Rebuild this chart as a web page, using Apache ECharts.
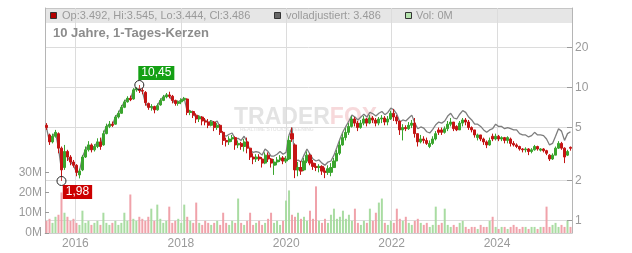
<!DOCTYPE html>
<html><head><meta charset="utf-8">
<script src="https://cdn.jsdelivr.net/npm/echarts@6/dist/echarts.min.js"></script>
<style>html,body{margin:0;padding:0;background:#fff}#c{width:632px;height:253px}</style>
</head><body><div id="c"></div>
<script>
// Two-week-ish candles, June 2015 – June 2025
const opens=[
5.2,4.4,3.9,4.3,4.5,3.5,2.5,3.3,3.0,2.75,
2.6,2.2,2.4,3.0,3.4,3.7,3.4,3.6,3.9,3.7,
4.5,5.1,5.3,5.3,6.0,6.4,7.1,7.8,8.3,8.2,
9.6,9.8,9.5,9.2,7.6,7.1,7.2,6.8,7.4,8.0,
8.5,8.8,8.6,8.0,7.6,7.8,8.1,8.2,6.5,6.6,
6.2,5.8,6.0,5.6,5.5,5.2,5.5,5.0,5.2,4.6,
4.0,3.9,4.1,4.2,3.7,3.8,3.6,3.9,3.5,3.0,
2.9,3.0,2.9,2.7,3.1,2.9,2.6,2.75,2.85,2.95,
2.8,2.9,4.5,3.7,2.4,2.5,2.4,2.8,3.1,2.7,
2.55,2.5,2.55,2.35,2.3,2.3,2.5,2.8,3.2,3.7,
4.2,4.6,5.1,5.8,5.4,5.0,5.4,5.8,5.4,5.9,
5.7,5.4,5.8,5.9,5.5,5.8,6.4,6.0,5.6,4.8,
5.0,4.9,5.2,5.4,4.5,3.9,4.1,4.0,3.6,3.8,
4.1,4.8,4.8,4.6,4.9,5.3,5.5,5.1,4.8,5.4,
5.7,5.5,5.0,4.8,4.2,4.4,4.1,3.9,3.7,4.3,
4.1,4.3,4.1,4.2,4.0,4.1,3.8,3.7,3.6,3.45,
3.4,3.45,3.3,3.4,3.6,3.38,3.45,3.35,3.1,2.9,
3.1,3.5,3.8,3.5,3.1,3.55];
const closes=[
5.0,3.9,4.3,4.6,3.5,2.4,3.3,3.0,2.75,2.6,
2.3,2.35,3.0,3.4,3.7,3.4,3.6,3.9,3.6,4.5,
5.1,5.3,5.2,6.0,6.4,7.1,7.8,8.3,8.1,9.6,
9.8,9.5,9.4,7.7,7.1,7.2,6.8,7.3,8.0,8.5,
8.8,8.6,8.0,7.6,7.8,8.1,8.3,6.5,6.6,6.2,
5.8,6.0,5.6,5.5,5.2,5.5,5.0,5.2,4.6,4.0,
3.9,4.1,4.2,3.7,3.8,3.6,3.9,3.5,3.0,2.9,
3.0,2.9,2.7,3.1,2.9,2.7,2.75,2.85,2.95,2.8,
2.9,4.0,4.1,2.4,2.5,2.35,2.8,3.1,2.7,2.55,
2.5,2.55,2.35,2.3,2.45,2.5,2.8,3.2,3.7,4.2,
4.6,5.1,5.8,5.4,5.0,5.4,5.8,5.4,5.9,5.7,
5.4,5.8,5.9,5.5,5.8,6.4,6.0,5.6,4.8,5.0,
4.9,5.2,5.4,4.5,3.9,4.1,4.0,3.8,3.8,4.1,
4.5,4.6,4.6,4.9,5.3,5.5,4.9,4.8,5.4,5.7,
5.5,5.0,4.8,4.4,4.4,4.1,3.9,3.7,4.0,4.1,
4.3,4.1,4.2,4.0,4.2,3.8,3.7,3.6,3.45,3.4,
3.45,3.3,3.4,3.6,3.45,3.45,3.35,3.2,2.9,3.1,
3.5,3.8,3.5,3.0,3.3,3.49];
const lows=[
4.8,3.7,3.8,4.2,3.2,1.98,2.4,2.8,2.6,2.5,
2.15,2.07,2.35,2.95,3.3,3.25,3.3,3.5,3.4,3.65,
4.45,4.95,5.05,5.25,5.85,6.35,7.0,7.7,7.9,8.1,
9.3,9.1,8.9,7.3,6.8,6.7,6.4,6.7,7.3,7.9,
8.3,8.3,7.6,7.3,7.3,7.5,7.9,6.2,6.2,5.9,
5.4,5.5,5.2,5.2,4.95,5.1,4.7,4.8,4.4,3.7,
3.6,3.7,3.9,3.4,3.5,3.4,3.3,3.2,2.85,2.65,
2.75,2.8,2.5,2.65,2.75,2.5,2.2,2.6,2.75,2.65,
2.7,2.85,3.9,2.08,2.15,2.2,2.35,2.7,2.6,2.4,
2.35,2.3,2.2,2.08,2.2,2.15,2.5,2.8,3.1,3.65,
4.0,4.4,5.0,5.1,4.7,4.9,5.2,5.1,5.3,5.4,
5.1,5.2,5.4,5.2,5.2,5.7,5.6,5.3,4.4,4.0,
4.7,4.8,4.95,4.2,3.6,3.8,3.8,3.7,3.5,3.7,
4.0,4.4,4.4,4.5,4.7,5.1,4.7,4.7,4.8,5.1,
5.2,4.8,4.6,4.2,4.0,3.95,3.7,3.5,3.65,3.95,
4.0,3.95,3.95,3.8,3.8,3.6,3.6,3.5,3.35,3.25,
3.25,3.1,3.2,3.35,3.35,3.3,3.25,3.1,2.8,2.85,
3.1,3.45,3.4,2.7,3.05,3.35];
const highs=[
5.4,4.5,4.5,4.8,4.6,3.6,3.7,3.4,3.1,2.85,
2.65,2.45,3.1,3.6,3.95,3.8,3.75,4.15,4.2,4.75,
5.35,5.6,5.55,6.2,6.7,7.4,8.1,8.6,8.7,9.9,
10.1,10.45,9.9,9.4,7.7,7.5,7.3,7.6,8.3,8.8,
9.1,9.3,8.8,8.1,8.0,8.3,8.5,8.3,6.8,6.7,
6.4,6.2,6.1,5.9,5.8,5.7,5.6,5.4,5.3,4.7,
4.2,4.3,4.4,4.3,4.0,3.9,4.1,4.2,3.5,3.2,
3.15,3.15,3.0,3.25,3.25,2.95,2.9,3.0,3.1,3.05,
3.05,4.3,5.0,3.8,2.75,2.8,2.95,3.3,3.2,2.85,
2.7,2.65,2.6,2.5,2.6,2.7,2.95,3.4,3.95,4.5,
4.95,5.4,6.1,6.0,5.6,5.7,6.1,5.9,6.2,6.1,
5.9,6.0,6.2,6.1,6.1,6.7,6.9,6.2,5.6,5.3,
5.2,5.5,5.7,5.9,4.5,4.4,4.3,4.2,4.0,4.3,
4.7,5.0,5.0,5.1,5.6,5.9,5.5,5.2,5.6,5.9,
5.9,5.7,5.1,4.8,4.5,4.4,4.2,4.0,4.2,4.5,
4.5,4.4,4.3,4.25,4.3,4.2,3.95,3.8,3.65,3.5,
3.55,3.5,3.5,3.7,3.65,3.5,3.5,3.4,3.15,3.2,
3.6,3.95,3.9,3.55,3.4,3.6];
const adjusted=[
5.0,3.9,4.3,4.6,3.5,2.4,3.3,3.0,2.75,2.6,
2.3,2.35,3.0,3.4,3.7,3.4,3.6,3.9,3.6,4.5,
5.1,5.3,5.2,6.0,6.4,7.1,7.8,8.3,8.1,9.6,
9.8,9.5,9.4,7.7,7.1,7.2,6.8,7.3,8.0,8.5,
8.8,8.6,8.0,7.6,7.8,8.1,8.3,6.6,6.7,6.35,
5.95,6.1,5.8,5.7,5.4,5.65,5.4,5.6,5.0,4.4,
4.3,4.45,4.55,4.1,4.15,4.0,4.3,3.9,3.35,3.25,
3.3,3.25,3.1,3.45,3.3,3.05,3.05,3.15,3.3,3.15,
3.25,4.4,5.0,2.75,2.85,2.75,3.1,3.45,3.15,2.9,
2.8,2.85,2.7,2.6,2.75,2.8,3.1,3.55,4.1,4.65,
5.1,5.6,6.2,6.0,5.7,6.0,6.3,6.0,6.5,6.35,
6.1,6.4,6.6,6.25,6.5,7.0,6.8,6.3,5.5,5.7,
5.6,5.9,6.2,5.4,4.9,5.05,4.95,4.65,4.55,4.85,
5.25,5.5,5.4,5.6,6.1,6.4,5.9,5.8,6.3,6.7,
6.5,6.0,5.7,5.3,5.3,5.1,4.8,4.6,4.8,4.9,
5.3,5.1,5.1,4.9,5.0,4.9,4.8,4.8,4.5,4.4,
4.4,4.25,4.35,4.6,4.4,4.4,4.35,4.1,3.7,3.8,
4.3,4.9,4.7,4.0,4.5,4.65];
const volumes=[ // millions
6,7,5,8,9,20,10,8,6,7,
5,4,11,5,6,4,5,6,4,10,
5,4,5,6,4,5,10,6,19,7,
6,8,7,6,8,12,6,14,7,5,
6,13,5,6,7,5,14,8,6,5,
15,5,4,6,5,4,5,6,4,10,
5,4,6,5,17,5,4,6,10,4,
5,6,4,5,7,10,5,6,4,6,
16,21,9,8,10,7,8,6,11,7,
23,6,5,7,5,9,12,7,8,11,
7,9,6,12,5,4,6,5,12,6,
10,15,17,5,4,6,5,12,7,6,
8,5,4,6,7,5,4,5,3,4,
13,4,5,12,4,3,4,3,5,6,
3,2,3,3,2,4,3,3,6,8,
3,2,3,3,2,3,4,3,2,3,
3,2,3,3,2,3,3,13,3,4,
5,3,4,3,6,3];
const yearTicks=[2016,2018,2020,2022,2024];
const priceTicks=[1,2,5,10,20];
const volumeTicks=[0,10,20,30];
const legendTexts=['Op:3.492, Hi:3.545, Lo:3.444, Cl:3.486','volladjustiert: 3.486','Vol: 0M'];
const titleText='10 Jahre, 1-Tages-Kerzen';

const FONT='"Liberation Sans", Arial, sans-serif';
const UP='#3aa52e', DOWN='#c41414', VUP='#a9dca2', VDOWN='#f0a2aa';
const tStart=Date.UTC(2015,5,4), tEnd=Date.UTC(2025,5,4);
const N=closes.length;
const dates=closes.map((_,i)=>tStart+(i+0.5)*(tEnd-tStart)/N);

let hiIdx=0, loIdx=0;
highs.forEach((v,i)=>{if(v>highs[hiIdx])hiIdx=i;});
lows.forEach((v,i)=>{if(v<lows[loIdx])loIdx=i;});

const chart=echarts.init(document.getElementById('c'),null,{renderer:'canvas'});
const L=45,R=572,T=8,B=233;
const yearStamps=yearTicks.map(y=>Date.UTC(y,0,1));
chart.setOption({
  animation:false,
  textStyle:{fontFamily:FONT},
  grid:{left:L,right:632-R,top:T,bottom:253-B,outerBoundsMode:'none',containLabel:false},
  xAxis:{type:'value',min:tStart,max:tEnd,
    axisLine:{show:true,lineStyle:{color:'#cfcfcf'}},
    axisTick:{show:false,customValues:yearStamps},
    axisLabel:{customValues:yearStamps,formatter:v=>String(new Date(v).getUTCFullYear()),
      color:'#9a9a9a',fontSize:12,margin:5,fontFamily:FONT},
    splitLine:{show:true,lineStyle:{color:'#dcdcdc',width:1}}},
  yAxis:[
    {type:'log',logBase:10,position:'right',min:0.804,max:39.7,
      axisLine:{show:true,lineStyle:{color:'#b5b5b5'}},
      axisTick:{show:true,inside:true,length:5,customValues:priceTicks,lineStyle:{color:'#9a9a9a'}},
      axisLabel:{customValues:priceTicks,color:'#9a9a9a',fontSize:12,margin:3,fontFamily:FONT,formatter:v=>String(Math.round(v))},
      splitLine:{show:true,lineStyle:{color:'#dcdcdc',width:1}}},
    {type:'value',position:'left',min:0,max:111,
      axisLine:{show:true,lineStyle:{color:'#b5b5b5'}},
      axisTick:{show:true,inside:true,length:4,customValues:volumeTicks,lineStyle:{color:'#9a9a9a'}},
      axisLabel:{customValues:volumeTicks,color:'#9a9a9a',fontSize:12,margin:3,fontFamily:FONT,formatter:v=>Math.round(v)+'M'},
      splitLine:{show:false}}
  ],
  graphic:[
    {type:'rect',z:-10,silent:true,shape:{x:L,y:T,width:R-L,height:15},style:{fill:'#e6e6e6'}},
    {type:'line',z:-9,silent:true,shape:{x1:L,y1:T+0.5,x2:R,y2:T+0.5},style:{stroke:'#c6c6c6',lineWidth:1}},
    {type:'rect',z:50,shape:{x:50.5,y:12.5,width:6,height:6},style:{fill:'#b30000',stroke:'#333',lineWidth:1}},
    {type:'text',z:50,x:62,y:15.5,style:{text:legendTexts[0],fill:'#9a9a9a',font:'11px '+FONT,verticalAlign:'middle'}},
    {type:'rect',z:50,shape:{x:274.5,y:12.5,width:6,height:6},style:{fill:'#666',stroke:'#333',lineWidth:1}},
    {type:'text',z:50,x:286,y:15.5,style:{text:legendTexts[1],fill:'#9a9a9a',font:'11px '+FONT,verticalAlign:'middle'}},
    {type:'rect',z:50,shape:{x:405.5,y:12.5,width:6,height:6},style:{fill:'#b4e2ac',stroke:'#333',lineWidth:1}},
    {type:'text',z:50,x:416,y:15.5,style:{text:legendTexts[2],fill:'#9a9a9a',font:'11px '+FONT,verticalAlign:'middle'}},
    {type:'text',z:50,x:53,y:33.5,style:{text:titleText,fill:'#8c8c8c',font:'bold 13px '+FONT,verticalAlign:'middle'}},
    {type:'text',z:-5,silent:true,x:234,y:118,style:{text:'{a|TRADER}{b|FOX}',verticalAlign:'middle',
      rich:{a:{fill:'#e3e3e3',fontSize:23,fontWeight:'bold',fontFamily:FONT},b:{fill:'#f7d9db',fontSize:23,fontWeight:'bold',fontFamily:FONT}}}},
    {type:'text',z:-5,silent:true,x:240,y:130,style:{text:'REALTIME STOCKSCREENING',fill:'#e6e6e6',font:'bold 5px '+FONT,verticalAlign:'middle'}}
  ],
  series:[
    {type:'bar',name:'Vol',xAxisIndex:0,yAxisIndex:1,barWidth:2,z:1,
      data:volumes.map((v,i)=>({value:[dates[i],v],itemStyle:{color:closes[i]>=opens[i]?VUP:VDOWN}}))},
    {type:'line',name:'volladjustiert',yAxisIndex:0,z:2,showSymbol:false,symbol:'none',
      lineStyle:{color:'#7d7d7d',width:1.3},data:adjusted.map((v,i)=>[dates[i],v])},
    {type:'candlestick',name:'Kurs',yAxisIndex:0,z:3,barWidth:2.6,
      itemStyle:{color:UP,color0:DOWN,borderColor:UP,borderColor0:DOWN,borderWidth:1},
      data:closes.map((c,i)=>[dates[i],opens[i],c,lows[i],highs[i]]),
      markPoint:{symbol:'circle',symbolSize:9,
        itemStyle:{color:'rgba(255,255,255,0.2)',borderColor:'#222',borderWidth:1},
        label:{show:true,position:'inside',color:'#fff',fontSize:12,fontFamily:FONT,padding:[1,3],
          formatter:p=>p.value.toFixed(2).replace('.',',')},
        data:[
          {coord:[dates[hiIdx],highs[hiIdx]],value:highs[hiIdx],label:{offset:[17,-12],backgroundColor:'#14a014'}},
          {coord:[dates[loIdx],lows[loIdx]],value:lows[loIdx],label:{offset:[16,11],backgroundColor:'#cc0000'}}
        ]}}
  ]
});
</script></body></html>
